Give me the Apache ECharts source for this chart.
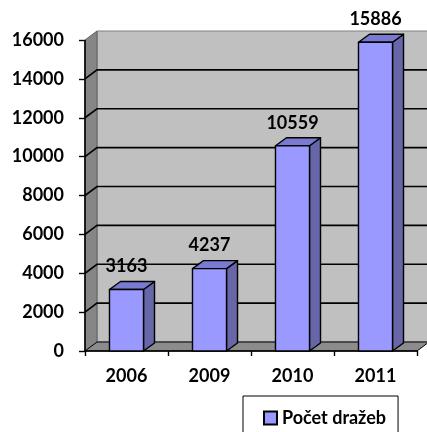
<!DOCTYPE html>
<html>
<head>
<meta charset="utf-8">
<script src="https://cdn.jsdelivr.net/npm/echarts@6/dist/echarts.min.js"></script>
<style>
html, body { margin: 0; padding: 0; background: #fff; }
#chart { width: 427px; height: 432px; }
</style>
</head>
<body>
<div id="chart"></div>
<script>
const years = ['2006', '2009', '2010', '2011'];
const counts = [3163, 4237, 10559, 15886];
const yTicks = [0, 2000, 4000, 6000, 8000, 10000, 12000, 14000, 16000];
const seriesName = 'Počet dražeb';

const FONT = 'Lato, "Open Sans", sans-serif';
const FS = 18;
// 3D depth of the walls and the bars
const WALL_DX = 12, WALL_DY = 9;
const BAR_DX = 11, BAR_DY = 8;

const chart = echarts.init(document.getElementById('chart'));

// back wall, side wall, floor and gridlines
function renderWalls(params, api) {
    const cs = params.coordSys;
    const left = cs.x, right = cs.x + cs.width;
    const top = cs.y, bottom = cs.y + cs.height;
    const children = [
        {
            type: 'rect',
            shape: { x: left + WALL_DX, y: top - WALL_DY, width: cs.width + 20, height: cs.height },
            style: { fill: '#c0c0c0', stroke: '#808080', lineWidth: 1 }
        },
        {
            type: 'polygon',
            shape: { points: [[left, top], [left + WALL_DX, top - WALL_DY], [left + WALL_DX, bottom - WALL_DY], [left, bottom]] },
            style: { fill: '#868686', stroke: '#606060', lineWidth: 1 }
        },
        {
            type: 'polygon',
            shape: { points: [[left, bottom], [left + WALL_DX, bottom - WALL_DY], [right + WALL_DX, bottom - WALL_DY], [right, bottom]] },
            style: { fill: '#8c8c8c', stroke: '#000', lineWidth: 1 }
        }
    ];
    yTicks.forEach(function (t) {
        if (t === 0 || t === yTicks[yTicks.length - 1]) return;
        const y = api.coord([0, t])[1];
        children.push({
            type: 'polyline',
            shape: { points: [[left, y], [left + WALL_DX, y - WALL_DY], [right + WALL_DX + 20, y - WALL_DY]] },
            style: { stroke: '#000', lineWidth: 1.6, fill: null }
        });
    });
    // front axis lines
    children.push({
        type: 'line',
        shape: { x1: left, y1: top, x2: left, y2: bottom },
        style: { stroke: '#000', lineWidth: 1.6 }
    });
    children.push({
        type: 'line',
        shape: { x1: left, y1: bottom, x2: right, y2: bottom },
        style: { stroke: '#000', lineWidth: 1.6 }
    });
    return { type: 'group', children: children };
}

// 3D bar with value label
function renderBar(params, api) {
    const idx = api.value(0);
    const val = api.value(1);
    const base = api.coord([idx, 0]);
    const topPt = api.coord([idx, val]);
    const w = api.size([1, 0])[0] * 0.41;
    const x0 = base[0] - w / 2, x1 = base[0] + w / 2;
    const yT = topPt[1], yB = base[1];
    const border = { stroke: '#000', lineWidth: 1.4, lineJoin: 'round' };
    return {
        type: 'group',
        children: [
            {
                type: 'polygon',
                shape: { points: [[x1, yT], [x1 + BAR_DX, yT - BAR_DY], [x1 + BAR_DX, yB - BAR_DY], [x1, yB]] },
                style: Object.assign({ fill: '#6666a8' }, border)
            },
            {
                type: 'polygon',
                shape: { points: [[x0, yT], [x0 + BAR_DX, yT - BAR_DY], [x1 + BAR_DX, yT - BAR_DY], [x1, yT]] },
                style: Object.assign({ fill: '#7a7ad0' }, border)
            },
            {
                type: 'rect',
                shape: { x: x0, y: yT, width: w, height: yB - yT },
                style: Object.assign({ fill: '#9999ff' }, border)
            },
            {
                type: 'text',
                x: base[0],
                y: yT - 14,
                style: {
                    text: String(val),
                    fill: '#000',
                    font: 'bold ' + FS + 'px ' + FONT,
                    align: 'center',
                    verticalAlign: 'bottom'
                }
            }
        ]
    };
}

const option = {
    animation: false,
    grid: { left: 85, right: 10, top: 40, bottom: 81 },
    legend: {
        data: [{ name: seriesName, icon: 'rect' }],
        left: 243,
        top: 396,
        padding: [13, 12, 13, 20],
        borderColor: '#000',
        borderWidth: 1,
        itemWidth: 13,
        itemHeight: 13,
        itemGap: 0,
        textStyle: { color: '#000', fontWeight: 'bold', fontSize: FS, fontFamily: FONT }
    },
    xAxis: {
        type: 'category',
        data: years,
        boundaryGap: true,
        axisLine: { show: false },
        axisTick: { show: true, length: 5, lineStyle: { color: '#000', width: 1.4 } },
        axisLabel: { color: '#000', fontWeight: 'bold', fontSize: FS, fontFamily: FONT, margin: 16 }
    },
    yAxis: {
        type: 'value',
        min: 0,
        max: 16000,
        interval: 2000,
        axisLine: { show: false },
        axisTick: { show: true, length: 6, lineStyle: { color: '#000', width: 1.4 } },
        splitLine: { show: false },
        axisLabel: {
            color: '#000', fontWeight: 'bold', fontSize: FS, fontFamily: FONT, margin: 21,
            formatter: function (v) { return String(v); }
        }
    },
    series: [
        {
            type: 'custom',
            name: 'walls',
            silent: true,
            z: 1,
            renderItem: renderWalls,
            data: [[0, 0]]
        },
        {
            type: 'custom',
            name: seriesName,
            z: 3,
            itemStyle: { color: '#9999ff', borderColor: '#000', borderWidth: 1 },
            renderItem: renderBar,
            encode: { x: 0, y: 1 },
            data: counts.map(function (v, i) { return [i, v]; })
        }
    ]
};

chart.setOption(option);
</script>
</body>
</html>
